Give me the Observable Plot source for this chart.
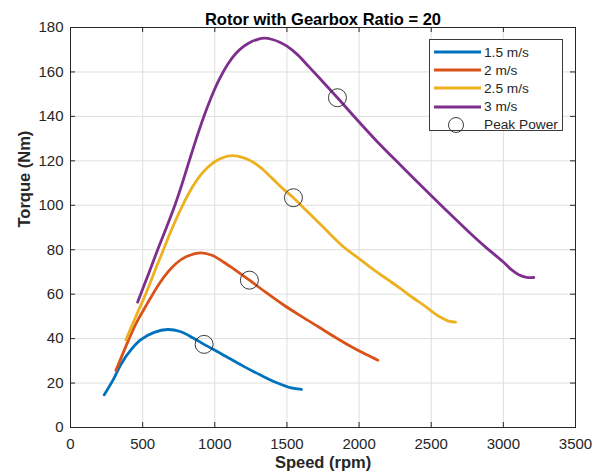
<!DOCTYPE html>
<html><head><meta charset="utf-8">
<script src="https://cdn.jsdelivr.net/npm/d3@7"></script>
<script src="https://cdn.jsdelivr.net/npm/@observablehq/plot@0.6"></script>
<style>
body{margin:0;background:#fff;font-family:"Liberation Sans",Arial,sans-serif;}
#wrap{position:relative;width:600px;height:474px;}
#legend{position:absolute;left:429px;top:39px;width:134px;height:92px;border:1px solid #3a3a3a;background:#fff;box-sizing:border-box;padding-top:3px;}
.row{height:18.2px;display:flex;align-items:center;font-size:13.7px;color:#262626;}
.row svg{width:53px;height:18px;flex:none;}
.row span{margin-left:1px;}
</style></head><body><div id="wrap"></div>
<script>
// ---- data ----
const seriesNames = ["1.5 m/s", "2 m/s", "2.5 m/s", "3 m/s"];
const seriesColors = ["#0072BD", "#D95319", "#EDB120", "#7E2F8E"];

const speed15  = [234, 300, 350, 420, 488, 580, 673, 760, 850, 926, 1050, 1200, 1320, 1435, 1530, 1601];
const torque15 = [14.7, 22, 28.5, 35, 39.5, 42.8, 44.1, 43.2, 40.3, 37.4, 33, 27.5, 23.5, 20, 17.8, 17.2];

const speed20  = [315, 400, 460, 530, 615, 673, 730, 800, 904, 980, 1060, 1150, 1240, 1350, 1480, 1600, 1720, 1850, 1950, 2050, 2130];
const torque20 = [25.7, 39, 47.5, 55.5, 64.7, 69.8, 73.7, 76.8, 78.6, 77.5, 74.5, 70.5, 66.3, 61, 55, 50, 45.2, 40, 36.2, 32.8, 30.3];

const speed25  = [384, 450, 527, 600, 638, 700, 777, 850, 900, 950, 1000, 1050, 1123, 1200, 1260, 1320, 1400, 1470, 1545, 1620, 1700, 1800, 1896, 2000, 2100, 2200, 2288, 2370, 2450, 2520, 2565, 2620, 2669];
const torque25 = [39.5, 49.5, 61, 73, 79, 89, 100, 108.8, 113.5, 117, 119.6, 121.3, 122.3, 121.3, 119.6, 116.8, 112, 107.6, 103.4, 98.6, 93.5, 87, 81.1, 76, 71, 66.5, 62.5, 58.5, 55, 51.5, 49.6, 47.9, 47.4];

const speed30  = [465, 540, 604, 665, 726, 775, 823, 872, 920, 975, 1030, 1090, 1146, 1200, 1250, 1300, 1342, 1400, 1450, 1500, 1573, 1650, 1750, 1850, 2000, 2150, 2288, 2450, 2600, 2761, 2889, 3000, 3060, 3110, 3160, 3211];
const torque30 = [56.4, 69, 80, 90, 100.5, 110, 120, 130, 139.2, 148.5, 156.5, 163.5, 168.3, 171.5, 173.5, 174.7, 175.2, 174.6, 173.4, 171.6, 167.8, 162.5, 155.5, 148.4, 137.5, 127, 118, 107.5, 98, 88, 80.5, 74.5, 70.8, 68.6, 67.6, 67.5];

const peakSpeed  = [926, 1240, 1545, 1850];
const peakTorque = [37.4, 66.3, 103.4, 148.4];

const xTicks = [0, 500, 1000, 1500, 2000, 2500, 3000, 3500];
const yTicks = [0, 20, 40, 60, 80, 100, 120, 140, 160, 180];

const titleText = "Rotor with Gearbox Ratio = 20";
const xLabel = "Speed (rpm)";
const yLabel = "Torque (Nm)";
const peakLabel = "Peak Power";

// ---- build tables ----
const speeds = [speed15, speed20, speed25, speed30];
const torques = [torque15, torque20, torque25, torque30];
const rows = [];
seriesNames.forEach((s, i) => speeds[i].forEach((x, j) => rows.push({series: s, speed: x, torque: torques[i][j]})));
const peaks = peakSpeed.map((x, i) => ({speed: x, torque: peakTorque[i]}));

const W = 600, H = 474, mL = 70, mR = 25, mT = 27, mB = 47;
const innerW = W - mL - mR, innerH = H - mT - mB;
const axisColor = "#262626";
const font = "Liberation Sans, Arial, sans-serif";

const chart = Plot.plot({
  width: W, height: H,
  marginLeft: mL, marginRight: mR, marginTop: mT, marginBottom: mB,
  style: {fontFamily: font, fontSize: "15px", color: axisColor, background: "#fff", overflow: "visible"},
  x: {domain: [0, 3500], ticks: xTicks, label: null, tickFormat: d3.format("d")},
  y: {domain: [0, 180], ticks: yTicks, label: null, tickFormat: d3.format("d")},
  color: {domain: seriesNames, range: seriesColors},
  marks: [
    Plot.gridX(xTicks, {stroke: "#dedede", strokeOpacity: 1}),
    Plot.gridY(yTicks, {stroke: "#dedede", strokeOpacity: 1}),
    Plot.gridX(xTicks, {stroke: axisColor, strokeOpacity: 1, insetTop: innerH - 5}),
    Plot.gridX(xTicks, {stroke: axisColor, strokeOpacity: 1, insetBottom: innerH - 5}),
    Plot.gridY(yTicks, {stroke: axisColor, strokeOpacity: 1, insetRight: innerW - 5}),
    Plot.gridY(yTicks, {stroke: axisColor, strokeOpacity: 1, insetLeft: innerW - 5}),
    Plot.frame({stroke: axisColor, strokeWidth: 1}),
    Plot.axisX(xTicks, {tickSize: 0, tickPadding: 11, label: null, fill: axisColor, fontSize: 15, tickFormat: d3.format("d")}),
    Plot.axisY(yTicks, {tickSize: 0, tickPadding: 7, label: null, fill: axisColor, fontSize: 15, tickFormat: d3.format("d")}),
    Plot.line(rows, {x: "speed", y: "torque", z: "series", stroke: "series", strokeWidth: 2.8, curve: "catmull-rom"}),
    Plot.dot(peaks, {x: "speed", y: "torque", r: 9, stroke: axisColor, strokeWidth: 0.9, fill: "none"}),
    Plot.text([titleText], {frameAnchor: "top", dy: -14, fontWeight: "bold", fontSize: 16.5, fill: "#000"}),
    Plot.text([xLabel], {frameAnchor: "bottom", dy: 40, fontWeight: "bold", fontSize: 16.5, fill: axisColor}),
    Plot.text([yLabel], {frameAnchor: "left", dx: -46, rotate: -90, fontWeight: "bold", fontSize: 16.5, fill: axisColor})
  ]
});

const wrap = document.getElementById("wrap");
wrap.appendChild(chart);

// ---- legend ----
const legend = document.createElement("div");
legend.id = "legend";
seriesNames.forEach((s, i) => {
  const r = document.createElement("div");
  r.className = "row";
  r.innerHTML = `<svg><line x1="4" x2="51" y1="9" y2="9" stroke="${seriesColors[i]}" stroke-width="2.8"/></svg><span>${s}</span>`;
  legend.appendChild(r);
});
const pr = document.createElement("div");
pr.className = "row";
pr.innerHTML = `<svg><circle cx="26" cy="9" r="7.5" fill="none" stroke="${axisColor}" stroke-width="0.9"/></svg><span>${peakLabel}</span>`;
legend.appendChild(pr);
wrap.appendChild(legend);
</script>
</body></html>
